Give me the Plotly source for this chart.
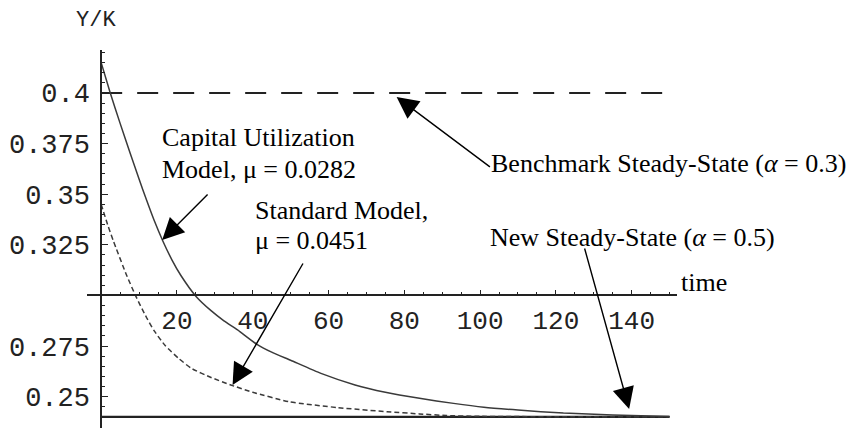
import plotly.graph_objects as go

# ---- data ----
t_capital = [0, 2.4, 5, 7.7, 10, 12, 14, 16.3, 18.7, 21, 25.1, 29, 32.4, 36, 41,
             45, 50, 58, 67, 75, 84, 93, 101, 110, 122, 135, 150]
y_capital = [0.4150, 0.4000, 0.3850, 0.3700, 0.3575, 0.3470, 0.3370, 0.3268, 0.3175,
             0.3100, 0.2994, 0.2925, 0.2875, 0.2830, 0.2760, 0.2720, 0.2680, 0.2615,
             0.2558, 0.2522, 0.2492, 0.2467, 0.2448, 0.2434, 0.2419, 0.2410, 0.2402]

t_standard = [0, 1.7, 3.2, 6.6, 9.2, 12, 14, 17, 20.4, 23.8, 29, 34.2, 40, 49.6,
              62.5, 75.4, 84, 91, 100, 120, 150]
y_standard = [0.3450, 0.3350, 0.3270, 0.3105, 0.2994, 0.2890, 0.2825, 0.2750, 0.2690,
              0.2640, 0.2595, 0.2558, 0.2522, 0.2475, 0.2446, 0.2426, 0.2415, 0.2407,
              0.2403, 0.2401, 0.2401]

t_span = [0, 150]
benchmark_ss = [0.4, 0.4]
new_ss = [0.24, 0.24]

x_tick_vals = [20, 40, 60, 80, 100, 120, 140]
x_tick_text = ["20", "40", "60", "80", "100", "120", "140"]
y_tick_vals = [0.25, 0.275, 0.325, 0.35, 0.375, 0.4]
y_tick_text = ["0.25", "0.275", "0.325", "0.35", "0.375", "0.4"]

x_range = [-3.74, 151.97]
y_range = [0.23454, 0.42124]
cross_y = 0.3
cross_x = 0.0

ink = "#222222"
curve_ink = "#3a3a3a"
mono = "Liberation Mono, Courier New, monospace"
serif = "Liberation Serif, Times New Roman, serif"

fig = go.Figure()
fig.add_trace(go.Scatter(x=t_span, y=benchmark_ss, mode="lines",
                         line=dict(color=ink, width=1.8, dash="21px,15px"), hoverinfo="skip"))
fig.add_trace(go.Scatter(x=t_span, y=new_ss, mode="lines",
                         line=dict(color=ink, width=2.2), hoverinfo="skip"))
fig.add_trace(go.Scatter(x=t_capital, y=y_capital, mode="lines",
                         line=dict(color=curve_ink, width=1.5, shape="spline", smoothing=0.5)))
fig.add_trace(go.Scatter(x=t_standard, y=y_standard, mode="lines",
                         line=dict(color=curve_ink, width=1.5, dash="5px,3px",
                                   shape="spline", smoothing=0.5)))

xpos = (cross_y - y_range[0]) / (y_range[1] - y_range[0])
ypos = (cross_x - x_range[0]) / (x_range[1] - x_range[0])

# the page adds an 8px body margin, so the figure is sized to fill the rest
fig.update_layout(
    width=848, height=421,
    margin=dict(l=65, r=179, t=42, b=1),
    paper_bgcolor="white", plot_bgcolor="white",
    showlegend=False,
    xaxis=dict(range=x_range, domain=[0, 1], anchor="free", position=xpos,
               showgrid=False, zeroline=False, showline=True, linecolor=ink, linewidth=1.6,
               tickmode="array", tickvals=x_tick_vals, ticktext=x_tick_text,
               ticks="inside", ticklen=5, tickwidth=1.2, tickcolor=ink,
               ticklabelstandoff=2,
               tickfont=dict(family=mono, size=26, color="#222"),
               minor=dict(tickmode="linear", tick0=0, dtick=5, ticks="inside",
                          ticklen=3, tickwidth=1.2, tickcolor=ink)),
    yaxis=dict(range=y_range, domain=[0, 1], anchor="free", position=ypos,
               showgrid=False, zeroline=False, showline=True, linecolor=ink, linewidth=1.6,
               tickmode="array", tickvals=y_tick_vals, ticktext=y_tick_text,
               ticks="inside", ticklen=6, tickwidth=1.2, tickcolor=ink,
               ticklabelstandoff=5,
               tickfont=dict(family=mono, size=27, color="#222"),
               minor=dict(tickmode="linear", tick0=0, dtick=0.005, ticks="inside",
                          ticklen=3, tickwidth=1.2, tickcolor=ink)),
)

# text labels (data coordinates)
labels = [
    ("Capital Utilization", 15.6, 0.3778),
    ("Model, \u03bc = 0.0282", 15.6, 0.3620),
    ("Benchmark Steady-State (<i>\u03b1</i> = 0.3)", 102.4, 0.3652),
    ("Standard Model,", 40.2, 0.3422),
    ("\u03bc = 0.0451", 40.2, 0.3272),
    ("New Steady-State (<i>\u03b1</i> = 0.5)", 102.2, 0.3286),
]
for txt, x, y in labels:
    fig.add_annotation(x=x, y=y, xref="x", yref="y", text=txt, showarrow=False,
                       xanchor="left", yanchor="middle",
                       font=dict(family=serif, size=26, color="black"))

fig.add_annotation(x=1.003, y=0.3836, xref="paper", yref="paper", text="time",
                   showarrow=False, xanchor="left", yanchor="middle",
                   font=dict(family=serif, size=26, color="black"))

fig.add_annotation(x=0.0157, y=1.079, xref="paper", yref="paper", text="Y/K",
                   showarrow=False, xanchor="center", yanchor="middle",
                   font=dict(family=mono, size=22, color="#222"))

# arrows (tip, tail)
arrows = [
    ((77.98, 0.39802), (102.99, 0.36296)),
    ((16.11, 0.32740), (28.48, 0.35061)),
    ((34.67, 0.25578), (53.49, 0.31653)),
    ((139.34, 0.24393), (127.48, 0.32394)),
]
for (tx, ty), (sx, sy) in arrows:
    fig.add_annotation(x=tx, y=ty, xref="x", yref="y", ax=sx, ay=sy, axref="x", ayref="y",
                       text="", showarrow=True, arrowhead=2, arrowsize=3.1,
                       arrowwidth=1.4, arrowcolor="black", standoff=0)

fig.write_html("out.html")
